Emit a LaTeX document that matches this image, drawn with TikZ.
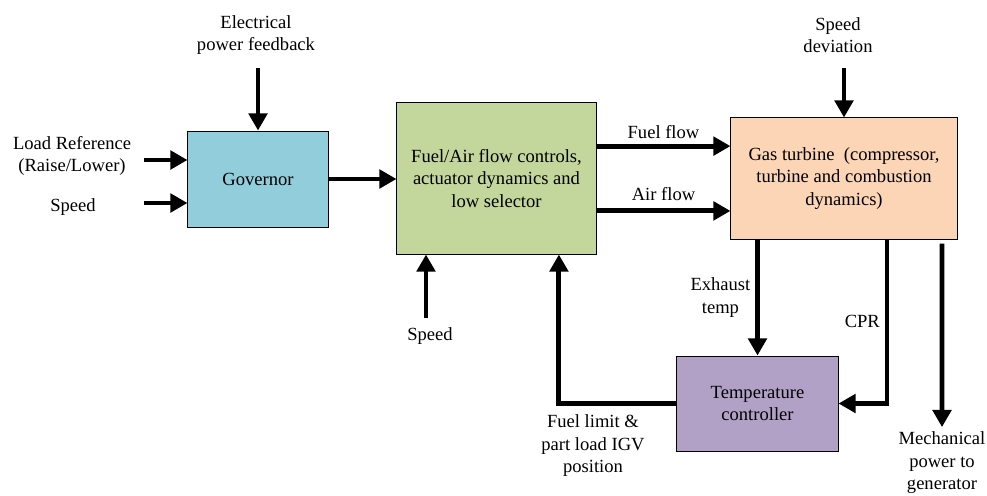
\documentclass[tikz,border=0pt]{standalone}
\usepackage{fontspec}
\setmainfont{Liberation Serif}
\usetikzlibrary{arrows.meta,positioning}
\definecolor{govblue}{HTML}{92CDDC}
\definecolor{ctrlgreen}{HTML}{C3D69B}
\definecolor{gtpeach}{HTML}{FBD5B5}
\definecolor{tcpurple}{HTML}{B2A1C7}

\begin{document}
\begin{tikzpicture}[x=0.025cm, y=-0.025cm,
  every node/.style={font=\fontsize{13.2}{16}\selectfont},
  blk/.style={draw, line width=0.7pt, align=center, inner sep=2pt},
  lbl/.style={align=center},
  arr/.style={line width=3.5pt, -{Triangle[length=0.43cm, width=0.46cm]}}]
\useasboundingbox (0,0) rectangle (987,495);
% blocks
\node[blk, fill=govblue, minimum width=3.5cm, minimum height=2.4cm] (gov) at (258,179) {Governor};
\node[blk, fill=ctrlgreen, minimum width=4.975cm, minimum height=3.775cm] (fac) at (496.5,178.5) {Fuel/Air flow controls,\\actuator dynamics and\\low selector};
\node[blk, fill=gtpeach, minimum width=5.65cm, minimum height=3.025cm] (gt) at (844,178.5) {Gas turbine \ (compressor,\\turbine and combustion\\dynamics)};
\node[blk, fill=tcpurple, minimum width=4.025cm, minimum height=2.375cm] (tc) at (757.5,403.5) {Temperature\\controller};
% outside labels
\node[lbl] (elec) at (256,35) {Electrical\\power feedback};
\node[lbl] (loadref) at (72,156) {Load Reference\\(Raise/Lower)};
\node[lbl] (spd) at (73,207) {Speed};
\node[lbl] (spdb) at (430,336) {Speed};
\node[lbl] (sdev) at (838,35) {Speed\\deviation};
\node[lbl] (flim) at (593,446) {Fuel limit \&\\part load IGV\\position};
\node[lbl] (mech) at (942,463) {Mechanical\\power to\\generator};
% free arrow ends
\coordinate (elecS) at (258,68);
\coordinate (lrS) at (144,160);
\coordinate (spdS) at (144,203);
\coordinate (spdbS) at (426,318);
\coordinate (sdevS) at (844,68);
% connectors
\draw[arr] (elecS) -- (elecS |- gov.north);
\draw[arr] (lrS) -- (lrS -| gov.west);
\draw[arr] (spdS) -- (spdS -| gov.west);
\draw[arr] (gov.east) -- (gov.east -| fac.west);
\draw[arr] ([yshift=0.81cm]fac.east) -- node[above] {Fuel flow} ([yshift=0.81cm]fac.east -| gt.west);
\draw[arr] ([yshift=-0.81cm]fac.east) -- node[above=2pt] {Air flow} ([yshift=-0.81cm]fac.east -| gt.west);
\draw[arr] (sdevS) -- (gt.north);
\draw[arr] (spdbS) -- (spdbS |- fac.south);
\draw[arr] (tc.north |- gt.south) -- node[lbl, left] {Exhaust\\temp} (tc.north);
\draw[arr] ([xshift=1.075cm]gt.south) |- node[left, pos=0.25] {CPR} (tc.east);
\draw[arr] ([xshift=2.45cm, yshift=-0.1cm]gt.south) -- (mech.north);
\draw[arr] (tc.west) -| ([xshift=1.56cm]fac.south);
\end{tikzpicture}
\end{document}
